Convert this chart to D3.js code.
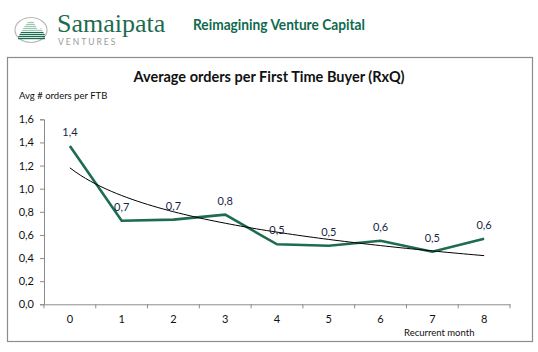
<!DOCTYPE html>
<html>
<head>
<meta charset="utf-8">
<script src="https://cdn.jsdelivr.net/npm/d3@7"></script>
<style>
  body { margin: 0; background: #fff; }
  text { font-family: Lato, "Open Sans", sans-serif; }
</style>
</head>
<body>
<svg id="mainsvg" width="538" height="352"></svg>
<script>
const months = ['0', '1', '2', '3', '4', '5', '6', '7', '8'];
const orders = [1.37, 0.723, 0.732, 0.775, 0.519, 0.507, 0.55, 0.455, 0.567];
const labels = ['1,4', '0,7', '0,7', '0,8', '0,5', '0,5', '0,6', '0,5', '0,6'];
const yTicks = [0, 0.2, 0.4, 0.6, 0.8, 1.0, 1.2, 1.4, 1.6];

const svg = d3.select('#mainsvg');
const green = '#1d6b50';

// header: logo + tagline
const logo = svg.append('g');
logo.append('ellipse').attr('cx', 31).attr('cy', 30).attr('rx', 16).attr('ry', 12.5)
  .attr('fill', 'none').attr('stroke', '#b8b8b8').attr('stroke-width', 1.2);
const clip = svg.append('clipPath').attr('id', 'lc');
clip.append('path').attr('d', 'M18,37 L24,27 L28,22 L33,21 L38,30 L41,28 L45,35 L45,40 L18,40 Z');
const stripes = logo.append('g').attr('clip-path', 'url(#lc)');
d3.range(20, 41, 2).forEach((y, i) => {
  stripes.append('rect').attr('x', 16).attr('y', y).attr('width', 32).attr('height', 1.2)
    .attr('fill', i < 6 ? '#9ec7b4' : green);
});
logo.append('text').attr('x', 57).attr('y', 32).text('Samaipata')
  .style('font-family', '"Liberation Serif", serif').style('font-size', '26px').attr('fill', green);
logo.append('text').attr('x', 58).attr('y', 44.5).text('VENTURES')
  .style('font-size', '8.5px').style('letter-spacing', '2px').attr('fill', '#9a9a9a');
svg.append('text').attr('x', 193).attr('y', 30).text('Reimagining Venture Capital')
  .attr('textLength', 172).attr('lengthAdjust', 'spacingAndGlyphs')
  .style('font-size', '15.5px').style('font-weight', 'bold').attr('fill', '#0f6a4e');

// chart frame
svg.append('rect').attr('x', 7.5).attr('y', 57.5).attr('width', 525).attr('height', 284)
  .attr('fill', '#fff').attr('stroke', '#8c8c8c').attr('stroke-width', 1.2);

svg.append('text').attr('x', 269).attr('y', 82).attr('text-anchor', 'middle')
  .text('Average orders per First Time Buyer (RxQ)')
  .style('font-size', '14.5px').style('font-weight', 'bold').attr('fill', '#111');
svg.append('text').attr('x', 19).attr('y', 99).text('Avg # orders per FTB')
  .style('font-size', '9.5px').attr('fill', '#111');

const margin = {left: 44, right: 510, top: 119.3, bottom: 304.3};
const x = d3.scaleBand().domain(months).range([margin.left, margin.right]);
const y = d3.scaleLinear().domain([0, 1.6]).range([margin.bottom, margin.top]);
const fmt = d => d3.format('.1f')(d).replace('.', ',');

const yAxis = svg.append('g').attr('transform', `translate(${margin.left},0)`)
  .call(d3.axisLeft(y).tickValues(yTicks).tickFormat(fmt).tickSize(4).tickPadding(6));
const xAxis = svg.append('g').attr('transform', `translate(0,${margin.bottom})`)
  .call(d3.axisBottom(x).tickSize(0).tickPadding(11));
// x ticks sit on band edges
xAxis.selectAll('.edge').data(d3.range(months.length + 1)).join('line')
  .attr('class', 'edge')
  .attr('x1', i => margin.left + i * x.step()).attr('x2', i => margin.left + i * x.step())
  .attr('y1', 0).attr('y2', 4);
[yAxis, xAxis].forEach(g => {
  g.selectAll('path.domain, line').attr('stroke', '#8c8c8c');
  g.selectAll('text').style('font-size', '11px').attr('fill', '#111');
});

svg.append('text').attr('x', 404).attr('y', 336).text('Recurrent month')
  .style('font-size', '9.5px').attr('fill', '#111');

const cx = (d, i) => x(months[i]) + x.bandwidth() / 2;

// logarithmic trendline fitted to the series
const lx = months.map(m => Math.log(+m + 1));
const mx = d3.mean(lx), my = d3.mean(orders);
const b = d3.sum(lx, (v, i) => (v - mx) * (orders[i] - my)) / d3.sum(lx, v => (v - mx) ** 2);
const a = my - b * mx;
const xs = d3.scaleLinear().domain([0, 8]).range([cx(0, 0), cx(0, 8)]);
const trend = d3.range(0, 8.001, 0.1).map(t => [xs(t), y(a + b * Math.log(t + 1))]);

svg.append('path').datum(orders)
  .attr('fill', 'none').attr('stroke', green).attr('stroke-width', 2.6)
  .attr('d', d3.line().x(cx).y(d => y(d)));
svg.append('path').datum(trend)
  .attr('fill', 'none').attr('stroke', '#000').attr('stroke-width', 1)
  .attr('d', d3.line());

svg.selectAll('.lbl').data(orders).join('text').attr('class', 'lbl')
  .attr('x', cx).attr('y', d => y(d) - 10).attr('text-anchor', 'middle')
  .text((d, i) => labels[i]).style('font-size', '11px').attr('fill', '#1a1f45');
</script>
</body>
</html>
